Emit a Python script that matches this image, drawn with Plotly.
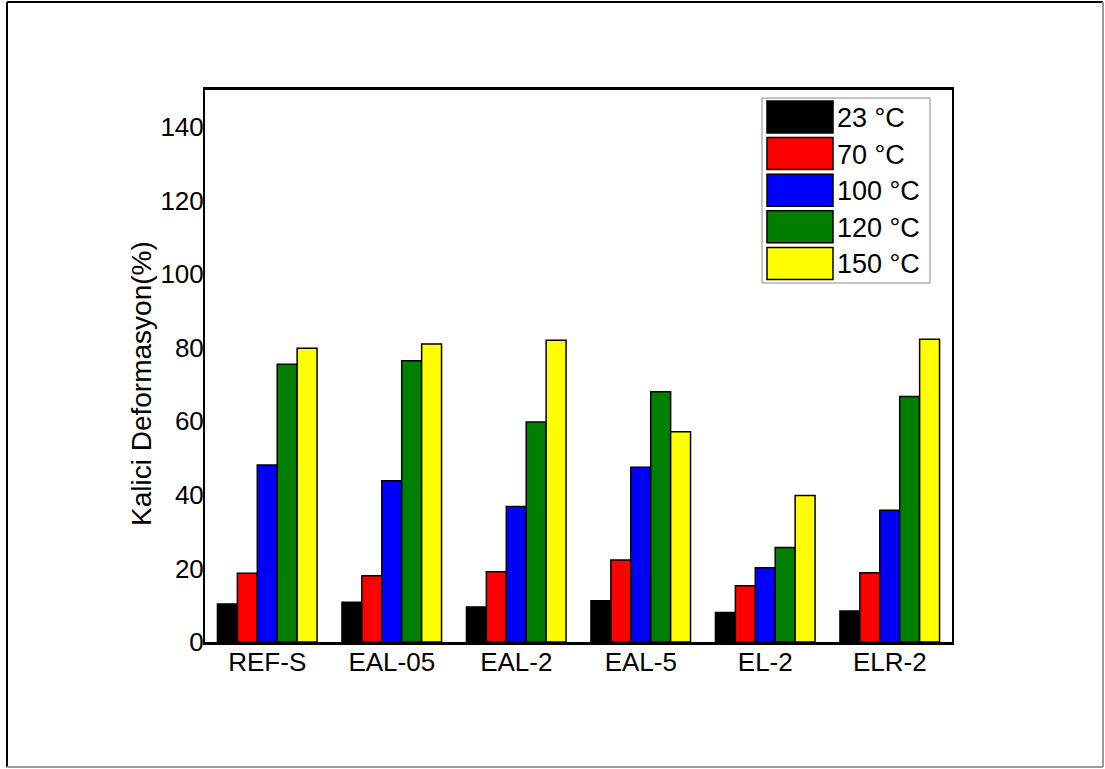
import plotly.graph_objects as go

# Samples and test temperatures
samples = ["REF-S", "EAL-05", "EAL-2", "EAL-5", "EL-2", "ELR-2"]
temps = ["23 °C", "70 °C", "100 °C", "120 °C", "150 °C"]
colors = ["#000000", "#FF0000", "#0000FF", "#007F00", "#FFFF00"]

# Permanent deformation (%) per temperature, one value per sample
def_23 = [10.3, 10.8, 9.5, 11.2, 8.0, 8.4]
def_70 = [18.7, 18.0, 19.1, 22.3, 15.3, 18.8]
def_100 = [48.1, 43.8, 36.8, 47.5, 20.2, 35.8]
def_120 = [75.5, 76.4, 59.8, 68.0, 25.7, 66.7]
def_150 = [79.8, 81.0, 82.0, 57.1, 39.8, 82.3]
series = [def_23, def_70, def_100, def_120, def_150]

FONT = "Liberation Sans, Arial, sans-serif"

fig = go.Figure()
for name, vals, col in zip(temps, series, colors):
    fig.add_trace(go.Bar(
        x=samples, y=vals, name=name,
        marker=dict(color=col, line=dict(color="#000000", width=1.5)),
        showlegend=False,
    ))

W, H = 1105, 769
L, R, T, B = 205, 153, 90, 127
pw, ph = W - L - R, H - T - B

def px_x(x):
    return (x - L) / pw

def px_y(y):
    return (H - B - y) / ph

shapes = []
annotations = []

# Outer frame around the whole figure
shapes.append(dict(type="line", xref="paper", yref="paper",
                   x0=px_x(7), x1=px_x(7), y0=px_y(2), y1=px_y(767),
                   line=dict(color="#000000", width=2)))
shapes.append(dict(type="line", xref="paper", yref="paper",
                   x0=px_x(7), x1=px_x(1103), y0=px_y(2), y1=px_y(2),
                   line=dict(color="#000000", width=2)))
shapes.append(dict(type="line", xref="paper", yref="paper",
                   x0=px_x(1103), x1=px_x(1103), y0=px_y(2), y1=px_y(767),
                   line=dict(color="#9a9a9a", width=2)))
shapes.append(dict(type="line", xref="paper", yref="paper",
                   x0=px_x(7), x1=px_x(1103), y0=px_y(767), y1=px_y(767),
                   line=dict(color="#9a9a9a", width=2)))

# Legend box
shapes.append(dict(type="rect", xref="paper", yref="paper",
                   x0=px_x(762), x1=px_x(930), y0=px_y(98), y1=px_y(283),
                   line=dict(color="#8a8a8a", width=1), fillcolor="#FFFFFF"))
for i, (name, col) in enumerate(zip(temps, colors)):
    top = 101 + i * 36.6
    bot = top + 32
    shapes.append(dict(type="rect", xref="paper", yref="paper",
                       x0=px_x(767), x1=px_x(833), y0=px_y(top), y1=px_y(bot),
                       line=dict(color="#000000", width=1.5), fillcolor=col))
    annotations.append(dict(xref="paper", yref="paper",
                            x=px_x(835), y=px_y((top + bot) / 2 + 1),
                            text=name, showarrow=False, xanchor="left", yanchor="middle",
                            font=dict(family=FONT, size=27, color="#000000")))

# Y axis title
annotations.append(dict(xref="paper", yref="paper",
                        x=px_x(142), y=px_y(384),
                        text="Kalici Deformasyon(%)", showarrow=False, textangle=-90,
                        xanchor="center", yanchor="middle",
                        font=dict(family=FONT, size=28, color="#000000")))

fig.update_layout(
    width=W, height=H,
    margin=dict(l=L, r=R, t=T, b=B),
    paper_bgcolor="#FFFFFF", plot_bgcolor="#FFFFFF",
    barmode="group", bargap=0.2, bargroupgap=0,
    font=dict(family=FONT, size=26, color="#000000"),
    shapes=shapes, annotations=annotations,
    showlegend=False,
)
fig.update_xaxes(
    range=[-0.5, 5.5], showgrid=False, zeroline=False,
    showline=True, linecolor="#000000", linewidth=3, mirror=True,
    ticks="", ticklabelstandoff=-5,
    tickfont=dict(family=FONT, size=26, color="#000000"),
)
fig.update_yaxes(
    range=[0, 150], tickvals=[0, 20, 40, 60, 80, 100, 120, 140],
    showgrid=False, zeroline=False,
    showline=True, linecolor="#000000", linewidth=2, mirror=True,
    ticks="", ticklabelstandoff=-6,
    tickfont=dict(family=FONT, size=26, color="#000000"),
)

fig.write_html("out.html")
